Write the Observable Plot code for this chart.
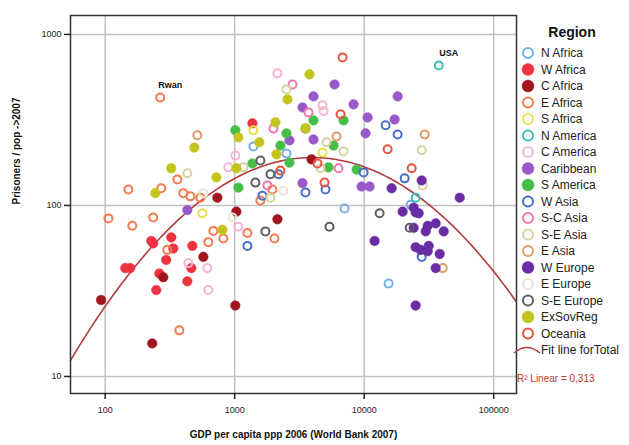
<!DOCTYPE html>
<html><head><meta charset="utf-8">
<script src="https://cdn.jsdelivr.net/npm/d3@7"></script>
<script src="https://cdn.jsdelivr.net/npm/@observablehq/plot@0.6"></script>
<style>
body{margin:0;background:#fff;}
#chart{position:relative;width:629px;height:445px;}
</style>
</head><body><div id="chart"></div>
<script>
// ---- DATA: [GDP per capita ppp 2006, prisoners per 100k pop] per region ----
const N_Africa   = [[1395,221],[2511,201],[7055,96],[22860,101],[15440,35]];
const W_Africa   = [[1371,302],[227,62],[235,60],[324,65],[336,56],[471,58],[296,48],[143,43],[156,43],[262,40],[248,32],[463,43],[431,36]];
const C_Africa   = [[735,111],[1031,92],[2139,83],[573,50],[281,38],[93,28],[1012,26],[231,15.6],[3920,186]];
const E_Africa   = [[266,428],[151,124],[271,126],[361,142],[401,118],[455,113],[543,111],[106,84],[162,76],[235,85],[302,55],[685,71],[818,64],[626,61],[374,18.6],[1254,69],[2028,64],[1580,107],[1957,124]];
const S_Africa   = [[1395,275],[563,90],[4768,204]];
const N_America  = [[37620,658],[24970,111]];
const C_America  = [[2139,592],[4768,385],[4853,357],[1012,196],[894,167],[439,46],[615,43],[626,32],[1068,75]];
const Caribbean  = [[5904,510],[4061,434],[3339,374],[8279,390],[18130,434],[10625,327],[17180,318],[10250,264],[2649,240],[4061,243],[3339,135],[431,94],[9548,129],[11010,129]];
const S_America  = [[1012,275],[2511,264],[2256,224],[1371,176],[2649,178],[4061,314],[6930,314],[5799,224],[5304,167],[8736,162],[1068,127]];
const W_Asia     = [[2178,152],[1638,114],[1254,58],[3523,119],[5029,124],[9894,156],[14640,294],[18130,260],[20540,144],[27800,50]];
const SC_Asia    = [[2795,510],[3716,350],[1992,282],[1790,131],[6339,165]];
const SE_Asia    = [[2511,477],[5119,234],[6930,207],[27800,210],[28290,131],[1168,167],[1889,111],[4601,165],[431,154]];
const E_Asia     = [[515,257],[29320,260],[40400,43],[6116,253]];
const W_Europe   = [[16290,126],[27800,140],[54680,111],[19820,92],[24110,97],[24970,91],[26350,90],[24110,74],[30930,76],[35660,78.5],[29850,70.5],[41130,70.5],[12035,62],[24970,57],[27310,55],[31490,58],[30930,54],[38300,52],[35660,43],[24970,26]];
const E_Europe   = [[2381,122],[960,85],[573,118]];
const SE_Europe  = [[1580,183],[1446,136],[1889,152],[3523,282],[1728,70.5],[5399,75],[13155,90],[22450,74]];
const ExSovReg   = [[3782,584],[2556,417],[2064,306],[1068,250],[1552,234],[2101,199],[488,218],[324,165],[722,146],[244,118],[1031,165],[804,72],[3523,282]];
const Oceania    = [[6808,734],[6569,341],[15170,213],[23260,165],[4362,176],[4940,136],[2256,160]];

const regionNames = ["N Africa","W Africa","C Africa","E Africa","S Africa","N America","C America","Caribbean","S America","W Asia","S-C Asia","S-E Asia","E Asia","W Europe","E Europe","S-E Europe","ExSovReg","Oceania"];
const regionData  = [N_Africa,W_Africa,C_Africa,E_Africa,S_Africa,N_America,C_America,Caribbean,S_America,W_Asia,SC_Asia,SE_Asia,E_Asia,W_Europe,E_Europe,SE_Europe,ExSovReg,Oceania];
const regionColors = ["#74aee8","#ee3340","#a0161c","#f47a50","#e6e04a","#3bbfb2","#f7b3d4","#9a58c8","#46bd46","#4670c8","#f075ad","#d5d2a2","#db9a68","#6a2ca4","#ebe4d2","#5e5e5e","#c3c41d","#e8553f"];
const regionFilled = [false,true,true,false,false,false,false,true,true,false,false,false,false,true,false,false,true,false];

const annotations = [{label:"Rwan", gdp:266, rate:428}, {label:"USA", gdp:37620, rate:658}];
const xTicks = [100, 1000, 10000, 100000];
const yTicks = [10, 100, 1000];
const xLabel = "GDP per capita ppp 2006 (World Bank 2007)";
const yLabel = "Prisoners / pop ->2007";
// quadratic fit in log10-log10 space: v = c0 + c1*u + c2*u^2
const fitCoef = [-2.1264, 2.448, -0.34];
const fitLabel = "Fit line forTotal";
const r2Label = "R\u00B2 Linear = 0,313";

// ---- build ----
const xDomain = [54, 150000];
const fitLine = d3.range(Math.log10(xDomain[0]), Math.log10(xDomain[1]) + 0.001, 0.02).map(u => ({
  gdp: 10 ** u, rate: 10 ** (fitCoef[0] + fitCoef[1]*u + fitCoef[2]*u*u)
}));

const font = "'Liberation Sans', Arial, Helvetica, sans-serif";
const dotMarks = regionData.map((arr, i) => Plot.dot(arr, {
  x: d => d[0], y: d => d[1], r: regionFilled[i] ? 4.8 : 4,
  fill: regionFilled[i] ? regionColors[i] : "none",
  stroke: regionColors[i], strokeWidth: regionFilled[i] ? 0.5 : 2
}));

const chart = Plot.plot({
  width: 629, height: 445,
  marginLeft: 70, marginRight: 113, marginTop: 15, marginBottom: 52,
  style: {fontFamily: font, fontSize: "9px", color: "#222", background: "#fff"},
  x: {type: "log", domain: xDomain},
  y: {type: "log", domain: [7.95, 1290]},
  marks: [
    Plot.gridX(xTicks, {stroke: "#c2c2c2", strokeOpacity: 1, strokeWidth: 1.5}),
    Plot.gridY(yTicks, {stroke: "#c2c2c2", strokeOpacity: 1, strokeWidth: 1.5}),
    Plot.line(fitLine, {x: "gdp", y: "rate", stroke: "#b23b3e", strokeWidth: 1.6}),
    ...dotMarks,
    Plot.text(annotations, {x: "gdp", y: "rate", text: "label", dx: 10, dy: -12, fontWeight: "bold", fontSize: 9, fill: "#111"}),
    Plot.frame({stroke: "#333", strokeWidth: 1.5}),
    Plot.axisX(xTicks, {tickSize: 6, tickPadding: 7, tickFormat: d => String(d), label: null, stroke: "#222", strokeWidth: 1.5, fontSize: 9}),
    Plot.axisY(yTicks, {tickSize: 6, tickPadding: 3, tickFormat: d => String(d), label: null, stroke: "#222", strokeWidth: 1.5, fontSize: 9}),
    Plot.text([xLabel], {frameAnchor: "bottom", dy: 44, text: d => d, fontWeight: "bold", fontSize: 10, fill: "#111"}),
    Plot.text([yLabel], {frameAnchor: "left", dx: -54, rotate: -90, text: d => d, fontWeight: "bold", fontSize: 10, fill: "#111"})
  ]
});
document.getElementById("chart").appendChild(chart);

// ---- legend (right side) ----
const svg = d3.select(chart);
const lg = svg.append("g").attr("font-family", font).attr("text-anchor", "start");
lg.append("text").attr("x", 572).attr("y", 37).attr("text-anchor", "middle")
  .attr("font-size", 14).attr("font-weight", "bold").attr("fill", "#111").text("Region");
regionNames.forEach((name, i) => {
  const y = 53 + i * 16.5;
  lg.append("circle").attr("cx", 528).attr("cy", y).attr("r", regionFilled[i] ? 6 : 5)
    .attr("fill", regionFilled[i] ? regionColors[i] : "none")
    .attr("stroke", regionColors[i]).attr("stroke-width", regionFilled[i] ? 0.5 : 2);
  lg.append("text").attr("x", 541).attr("y", y).attr("dy", "0.35em").attr("text-anchor", "start")
    .attr("font-size", 12).attr("fill", "#222").text(name);
});
const fy = 53 + 18 * 16.5;
lg.append("path").attr("d", `M514,${fy+3} Q527,${fy-8} 540,${fy+3}`)
  .attr("fill", "none").attr("stroke", "#b23b3e").attr("stroke-width", 1.6);
lg.append("text").attr("x", 541).attr("y", fy).attr("dy", "0.35em").attr("text-anchor", "start")
  .attr("font-size", 12).attr("fill", "#222").text(fitLabel);
lg.append("text").attr("x", 517).attr("y", fy + 28).attr("dy", "0.35em").attr("text-anchor", "start")
  .attr("font-size", 10).attr("fill", "#c0392b").text(r2Label);
</script>
</body></html>
